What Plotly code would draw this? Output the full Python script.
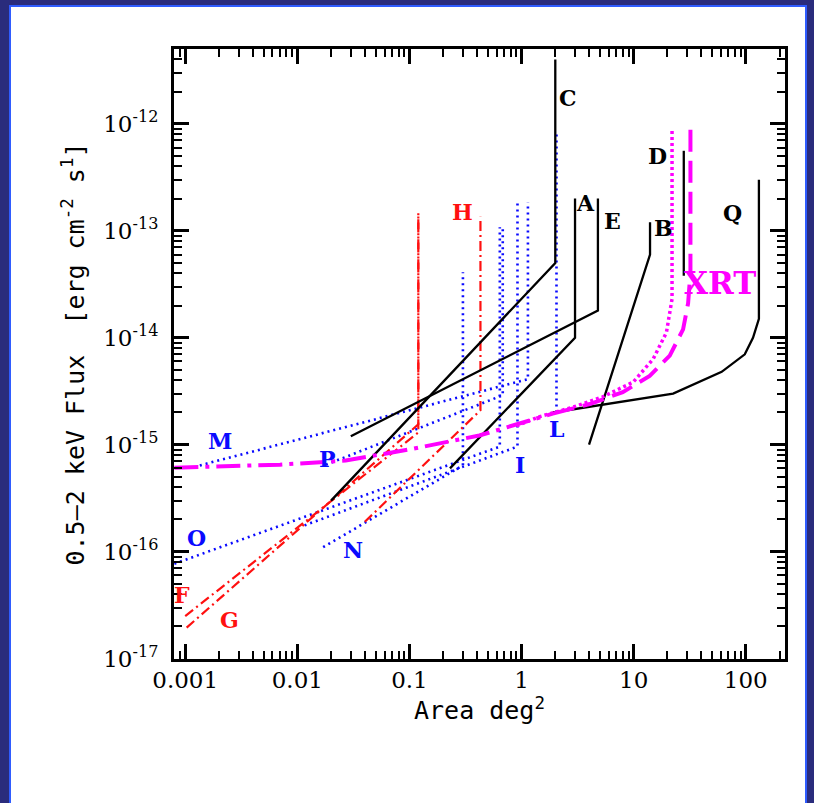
import numpy as np
import plotly.graph_objects as go

# ---------------- data (area in deg^2, 0.5-2 keV flux in erg cm^-2 s^-1) ----------------
C_area = [0.02, 2.0, 2.0]
C_flux = [3.0e-16, 5.0e-14, 4.0e-12]
A_area = [0.23, 3.0, 3.0]
A_flux = [6.0e-16, 1.0e-14, 2.0e-13]
E_area = [0.03, 4.8, 4.8]
E_flux = [1.2e-15, 1.8e-14, 2.0e-13]
B_area = [4.0, 14.0, 14.0]
B_flux = [1.0e-15, 6.0e-14, 1.2e-13]
D_area = [28.0, 28.0]
D_flux = [3.8e-14, 5.6e-13]
Q_area = [1.9, 7.5, 22.5, 61.0, 98.0, 116.0, 131.0, 131.0]
Q_flux = [2.0e-15, 2.5e-15, 3.0e-15, 4.8e-15, 7.0e-15, 1.0e-14, 1.5e-14, 3.0e-13]

F_area = [0.001, 0.12, 0.12]
F_flux = [2.5e-17, 1.3e-15, 1.5e-13]
G_area = [0.00103, 0.12, 0.12]
G_flux = [1.95e-17, 1.55e-15, 1.45e-13]
H_area = [0.04, 0.43, 0.43]
H_flux = [1.9e-16, 2.1e-15, 1.35e-13]

M_area = [0.00135, 1.14, 1.14]
M_flux = [6.4e-16, 4.1e-15, 1.85e-13]
O_area = [0.0008, 0.64, 0.64]
O_flux = [7.7e-17, 9.6e-16, 1.08e-13]
P_area = [0.018, 0.68, 0.68]
P_flux = [6.5e-16, 2.9e-15, 1.08e-13]
N_area = [0.017, 0.30, 0.30]
N_flux = [1.1e-16, 6.4e-16, 4.1e-14]
I_area = [0.0116, 0.92, 0.92]
I_flux = [1.76e-16, 9.6e-16, 1.9e-13]
L_area = [2.05, 2.05]
L_flux = [2.0e-15, 8.0e-13]

XRT_area = [1.9, 4.06, 8.0, 13.9, 21.0, 27.6, 30.6, 32.1, 32.1]
XRT_flux = [1.95e-15, 2.4e-15, 3.1e-15, 4.4e-15, 6.8e-15, 1.2e-14, 2.1e-14, 4.1e-14, 9.0e-13]
XRTlow_area = [0.0008, 0.007, 0.027, 0.11, 0.42, 1.9]
XRTlow_flux = [6.1e-16, 6.5e-16, 7.1e-16, 9.2e-16, 1.22e-15, 1.95e-15]
XRTdot_area = [0.9, 1.45, 2.9, 5.3, 9.9, 14.9, 19.6, 22.0, 22.0]
XRTdot_flux = [1.5e-15, 1.83e-15, 2.25e-15, 2.8e-15, 3.85e-15, 6.3e-15, 1.12e-14, 2.3e-14, 9.0e-13]

label_text = ["C", "A", "E", "B", "D", "Q", "XRT", "H", "F", "G", "M", "O", "P", "N", "I", "L"]
label_area = [2.58, 3.74, 6.5, 18.6, 16.4, 76.6, 58.6, 0.30, 0.00093, 0.00249,
              0.00203, 0.00127, 0.0187, 0.0312, 0.964, 2.06]
label_flux = [1.76e-12, 1.81e-13, 1.23e-13, 1.06e-13, 4.96e-13, 1.46e-13, 3.24e-14, 1.49e-13,
              3.9e-17, 2.29e-17, 1.09e-15, 1.33e-16, 7.4e-16, 1.03e-16, 6.5e-16, 1.41e-15]
label_group = ["k", "k", "k", "k", "k", "k", "m", "r", "r", "r", "b", "b", "b", "b", "b", "b"]

x_tickvals = [0.001, 0.01, 0.1, 1, 10, 100]
x_ticktext = ["0.001", "0.01", "0.1", "1", "10", "100"]
y_tickvals = [1e-17, 1e-16, 1e-15, 1e-14, 1e-13, 1e-12]
y_ticktext = ["10<sup>-17</sup>", "10<sup>-16</sup>", "10<sup>-15</sup>",
              "10<sup>-14</sup>", "10<sup>-13</sup>", "10<sup>-12</sup>"]
minor_mult = [2, 3, 4, 5, 6, 7, 8, 9]
x_decades = [1e-4, 1e-3, 1e-2, 1e-1, 1, 10, 100]
y_decades = [1e-18, 1e-17, 1e-16, 1e-15, 1e-14, 1e-13, 1e-12]

# ---------------- styles ----------------
BLACK = "#000000"
BLUE = "#0a0aff"
RED = "#ff1010"
MAG = "#ff00ff"
col = {"k": BLACK, "b": BLUE, "r": RED, "m": MAG}

fig = go.Figure()

def add(xa, ya, color, width, dash):
    fig.add_trace(go.Scatter(x=xa, y=ya, mode="lines",
                             line=dict(color=color, width=width, dash=dash),
                             hoverinfo="skip", showlegend=False))

for xa, ya in [(M_area, M_flux), (O_area, O_flux), (P_area, P_flux),
               (N_area, N_flux), (I_area, I_flux), (L_area, L_flux)]:
    add(xa, ya, BLUE, 2.6, "2px,4px")

for xa, ya in [(F_area, F_flux), (G_area, G_flux), (H_area, H_flux)]:
    add(xa, ya, RED, 2.2, "10px,4px,2px,4px")

for xa, ya in [(C_area, C_flux), (A_area, A_flux), (E_area, E_flux),
               (B_area, B_flux), (D_area, D_flux), (Q_area, Q_flux)]:
    add(xa, ya, BLACK, 2.3, "solid")

add(XRTdot_area, XRTdot_flux, MAG, 3.5, "3px,3px")
add(XRTlow_area, XRTlow_flux, MAG, 4, "24px,7px,4px,7px")
add(XRT_area, XRT_flux, MAG, 4, "22px,9px")

for t, xa, ya, g in zip(label_text, label_area, label_flux, label_group):
    big = (t == "XRT")
    fig.add_annotation(x=np.log10(xa), y=np.log10(ya), xref="x", yref="y", text=t,
                       showarrow=False,
                       font=dict(family="DejaVu Serif", size=31 if big else 22,
                                 color=col[g], weight="bold"))

# ---------------- layout ----------------
L, R, T, B = 174, 29, 49, 144
W, H = 814, 803
pw, ph = W - L - R, H - T - B

def px_x(p):
    return (p - L) / pw

def px_y(p):
    return (H - B - p) / ph

fig.add_shape(type="rect", xref="paper", yref="paper", layer="below",
              x0=px_x(10), x1=px_x(806), y0=px_y(812), y1=px_y(6),
              fillcolor="white", line=dict(color="#2f5cff", width=2))

axis_common = dict(
    type="log", ticks="inside", ticklen=15, tickwidth=2.5, tickcolor="black",
    showline=True, linewidth=3, linecolor="black", mirror="allticks",
    showgrid=False, zeroline=False, automargin=False,
    tickfont=dict(family="DejaVu Serif", size=23, color="black"),
)

fig.update_xaxes(
    range=[-3.10, 2.35], tickmode="array", tickvals=x_tickvals, ticktext=x_ticktext,
    minor=dict(ticks="inside", ticklen=8, tickwidth=2, tickcolor="black",
               tickmode="array", tickvals=[m * d for d in x_decades for m in minor_mult]),
    title=dict(text="Area deg<sup>2</sup>",
               font=dict(family="DejaVu Sans Mono", size=25, color="black"), standoff=10),
    ticklabelstandoff=-2,
    **axis_common,
)
fig.update_yaxes(
    range=[-17.004, -11.30], tickmode="array", tickvals=y_tickvals, ticktext=y_ticktext,
    minor=dict(ticks="inside", ticklen=8, tickwidth=2, tickcolor="black",
               tickmode="array", tickvals=[m * d for d in y_decades for m in minor_mult]),
    title=dict(text="0.5\u20132 keV Flux\u00a0\u00a0[erg cm<sup>-2</sup> s<sup>1</sup>]",
               font=dict(family="DejaVu Sans Mono", size=25, color="black"), standoff=12),
    ticklabelstandoff=8,
    **axis_common,
)

fig.update_layout(
    width=W, height=H,
    margin=dict(l=L, r=R, t=T, b=B, pad=0),
    paper_bgcolor="#2a2c7c", plot_bgcolor="white",
    showlegend=False,
)

fig.write_html("out.html")
